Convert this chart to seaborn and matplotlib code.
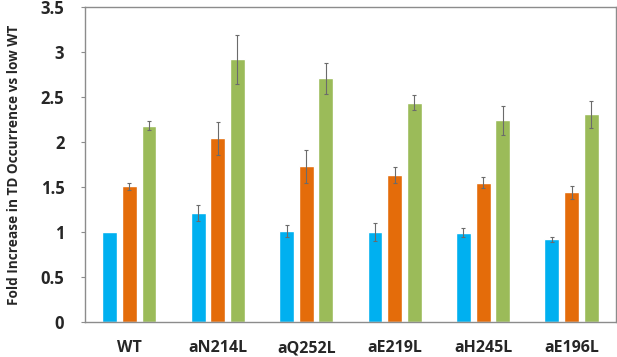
import pandas as pd
import numpy as np
import matplotlib
matplotlib.use("Agg")
import matplotlib.pyplot as plt
import seaborn as sns

# values
mutants = ["WT", "aN214L", "aQ252L", "aE219L", "aH245L", "aE196L"]
levels = ["low", "mid", "high"]
low_vals = [1.00, 1.21, 1.01, 1.00, 0.99, 0.92]
mid_vals = [1.51, 2.04, 1.73, 1.63, 1.55, 1.44]
high_vals = [2.18, 2.92, 2.71, 2.44, 2.24, 2.31]
low_err = [0.00, 0.09, 0.07, 0.10, 0.05, 0.03]
mid_err = [0.04, 0.18, 0.18, 0.09, 0.06, 0.07]
high_err = [0.05, 0.27, 0.17, 0.08, 0.16, 0.15]

palette = ["#00B0F0", "#E46C0A", "#9BBB59"]

df = pd.DataFrame({
    "mutant": mutants * 3,
    "level": np.repeat(levels, len(mutants)),
    "value": low_vals + mid_vals + high_vals,
    "err": low_err + mid_err + high_err,
})

sns.set_theme(style="white")
plt.rcParams["font.family"] = ["Open Sans", "DejaVu Sans"]

fig = plt.figure(figsize=(6.17, 3.57), dpi=100)
ax = fig.add_axes([0.138, 0.098, 0.86, 0.882])

sns.barplot(data=df, x="mutant", y="value", hue="level", order=mutants,
            hue_order=levels, palette=palette, width=0.667, gap=0.24,
            errorbar=None, legend=False, saturation=1, ax=ax)

# error bars placed on the bar centres seaborn produced
for patch, (_, row) in zip(ax.patches, df.iterrows()):
    xc = patch.get_x() + patch.get_width() / 2
    if row["err"] > 0:
        ax.errorbar(xc, row["value"], yerr=row["err"], fmt="none",
                    ecolor="#6b6b6b", elinewidth=0.8, capsize=1.5, capthick=0.8)

ax.set_ylim(0, 3.5)
ax.set_yticks(np.arange(0, 3.51, 0.5))
ax.set_yticklabels(["0", "0.5", "1", "1.5", "2", "2.5", "3", "3.5"])
ax.set_xlim(-0.5, len(mutants) - 0.5)
ax.set_xlabel("")
ax.set_ylabel("Fold Increase in TD Occurrence vs low WT", fontsize=9.8,
              fontweight="bold", labelpad=14)
ax.tick_params(axis="x", length=0, pad=13, labelsize=11.5)
ax.tick_params(axis="y", length=3, width=0.8, color="#8c8c8c", pad=12,
               labelsize=12, left=True)
for lbl in ax.get_xticklabels() + ax.get_yticklabels():
    lbl.set_fontweight("bold")
for side in ["left", "bottom", "top", "right"]:
    ax.spines[side].set_color("#8c8c8c")
    ax.spines[side].set_linewidth(1.0)

fig.savefig("out.png", dpi=100)
